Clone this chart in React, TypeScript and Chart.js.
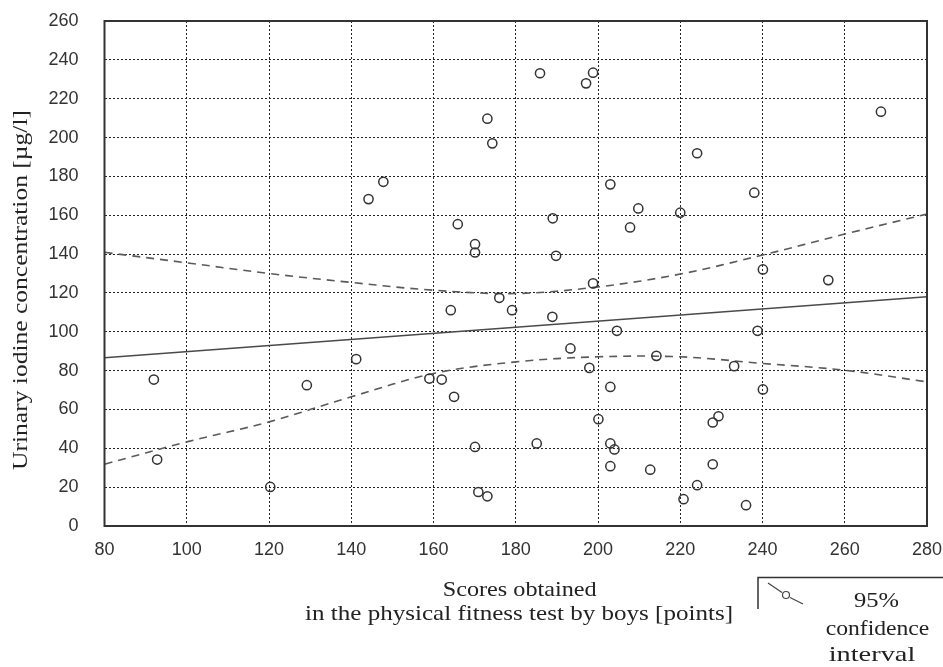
import React, { useEffect, useRef } from "react";
import { Chart, registerables } from "chart.js";

Chart.register(...registerables);

// ---- data ----
const scoreX = [
  92.0, 92.8, 120.3, 129.2, 141.2, 144.2, 147.8, 159.0, 162.0, 164.2,
  165.0, 165.9, 170.1, 170.1, 170.1, 170.9, 173.1, 173.1, 174.3, 176.0,
  179.1, 185.1, 185.9, 188.9, 189.0, 189.8, 193.3, 197.1, 197.9, 198.8,
  198.8, 200.1, 203.0, 203.0, 203.0, 204.0, 203.0, 204.6, 207.8, 209.8,
  212.7, 214.2, 220.0, 220.8, 224.1, 224.1, 227.9, 229.3, 227.9, 233.1,
  236.0, 238.0, 238.8, 240.1, 240.1, 256.0, 268.8,
];
const iodineY = [
  75.4, 34.2, 20.1, 72.5, 85.9, 168.3, 177.2, 75.9, 75.4, 111.1,
  66.5, 155.4, 145.1, 140.8, 40.7, 17.5, 15.3, 209.7, 197.0, 117.5,
  111.1, 42.5, 233.1, 107.7, 158.4, 139.1, 91.4, 227.9, 81.4, 233.4,
  124.9, 55.0, 175.9, 71.6, 42.5, 39.4, 30.8, 100.5, 153.7, 163.5,
  29.0, 87.6, 161.3, 13.8, 191.9, 21.0, 53.3, 56.5, 31.8, 82.3,
  10.7, 171.6, 100.5, 132.1, 70.3, 126.6, 213.3,
];
const regX = [80, 280];
const regY = [86.6, 118.0];
const ciX = [80, 100, 120, 140, 160, 180, 200, 220, 240, 260, 280];
const ciUpper = [140.9, 135.5, 130.0, 125.4, 121.4, 119.7, 123.1, 129.7, 139.5, 150.3, 160.6];
const ciLower = [31.8, 43.3, 53.6, 66.5, 78.5, 84.5, 87.1, 87.1, 83.7, 80.2, 74.2];

const xTickMin = 80;
const xTickMax = 280;
const xTickStep = 20;
const yTickMin = 0;
const yTickMax = 260;
const yTickStep = 20;

const yTitle = "Urinary iodine concentration [\u00b5g/l]";
const xTitleLines = ["Scores obtained", "in the physical fitness test by boys [points]"];
const legendLines = ["95%", "confidence", "interval"];

const toPts = (xs: number[], ys: number[]) => xs.map((x, i) => ({ x, y: ys[i] }));

function fitText(
  ctx: CanvasRenderingContext2D,
  text: string,
  cx: number,
  baseY: number,
  targetW: number,
  rotate = false
) {
  ctx.save();
  ctx.font = "22px 'Liberation Serif', 'Times New Roman', serif";
  ctx.fillStyle = "#222";
  ctx.textAlign = "center";
  ctx.textBaseline = "alphabetic";
  const w = ctx.measureText(text).width;
  const s = targetW / w;
  if (rotate) {
    ctx.translate(baseY, cx);
    ctx.rotate(-Math.PI / 2);
    ctx.scale(s, 1);
    ctx.fillText(text, 0, 0);
  } else {
    ctx.translate(cx, baseY);
    ctx.scale(s, 1);
    ctx.fillText(text, 0, 0);
  }
  ctx.restore();
}

const decorPlugin = {
  id: "decor",
  afterDraw(chart: any) {
    const ctx: CanvasRenderingContext2D = chart.ctx;
    const a = chart.chartArea;
    // plot frame
    ctx.save();
    ctx.strokeStyle = "#333";
    ctx.lineWidth = 2;
    ctx.strokeRect(a.left, a.top, a.right - a.left, a.bottom - a.top);
    ctx.restore();

    // axis titles
    fitText(ctx, xTitleLines[0], 519.7, 596, 154);
    fitText(ctx, xTitleLines[1], 519, 620, 428);
    fitText(ctx, yTitle, 290, 27, 360, true);

    // legend box
    ctx.save();
    ctx.strokeStyle = "#333";
    ctx.lineWidth = 1.5;
    ctx.beginPath();
    ctx.moveTo(758, 609);
    ctx.lineTo(758, 577.5);
    ctx.lineTo(943, 577.5);
    ctx.stroke();
    ctx.strokeStyle = "#444";
    ctx.lineWidth = 1.2;
    ctx.beginPath();
    ctx.moveTo(768, 583);
    ctx.lineTo(782, 592.5);
    ctx.moveTo(790, 597.5);
    ctx.lineTo(803, 604);
    ctx.stroke();
    ctx.beginPath();
    ctx.arc(786, 595, 3.5, 0, Math.PI * 2);
    ctx.stroke();
    ctx.restore();
    fitText(ctx, legendLines[0], 876.5, 607, 45);
    fitText(ctx, legendLines[1], 877.5, 635, 103.7);
    fitText(ctx, legendLines[2], 872, 661, 86.7);
  },
};

function zeroPad(scale: any) {
  scale.paddingTop = 0;
  scale.paddingBottom = 0;
  scale.paddingLeft = 0;
  scale.paddingRight = 0;
}

export default function App() {
  const ref = useRef<HTMLCanvasElement>(null);
  useEffect(() => {
    if (!ref.current) return;
    const gridCommon = {
      color: "#222",
      lineWidth: 1,
      drawTicks: false,
    };
    const chart = new Chart(ref.current, {
      type: "scatter",
      data: {
        datasets: [
          {
            label: "Data",
            data: toPts(scoreX, iodineY),
            pointStyle: "circle",
            pointRadius: 4.6,
            pointBorderWidth: 1.5,
            borderColor: "#333",
            backgroundColor: "rgba(0,0,0,0)",
            showLine: false,
          },
          {
            label: "Regression",
            data: toPts(regX, regY),
            showLine: true,
            pointRadius: 0,
            borderColor: "#4a4a4a",
            borderWidth: 1.6,
          },
          {
            label: "Upper 95%",
            data: toPts(ciX, ciUpper),
            showLine: true,
            pointRadius: 0,
            borderColor: "#5a5a5a",
            borderWidth: 1.6,
            borderDash: [8, 6],
            tension: 0.35,
          },
          {
            label: "Lower 95%",
            data: toPts(ciX, ciLower),
            showLine: true,
            pointRadius: 0,
            borderColor: "#5a5a5a",
            borderWidth: 1.6,
            borderDash: [8, 6],
            tension: 0.35,
          },
        ],
      },
      options: {
        animation: false,
        responsive: false,
        devicePixelRatio: 1,
        layout: { padding: { left: 0, top: 21, right: 16, bottom: 0 } },
        plugins: {
          legend: { display: false },
          tooltip: { enabled: false },
          title: { display: false },
        },
        scales: {
          x: {
            type: "linear",
            min: xTickMin,
            max: xTickMax,
            ticks: {
              stepSize: xTickStep,
              padding: 13,
              color: "#333",
              font: { family: "'Liberation Sans', Arial, sans-serif", size: 18 },
            },
            grid: gridCommon,
            border: { display: false, dash: [2, 2] },
            afterFit(scale: any) {
              scale.height = 141;
              zeroPad(scale);
            },
          },
          y: {
            type: "linear",
            min: yTickMin,
            max: yTickMax,
            ticks: {
              stepSize: yTickStep,
              padding: 26,
              color: "#333",
              font: { family: "'Liberation Sans', Arial, sans-serif", size: 18 },
            },
            grid: gridCommon,
            border: { display: false, dash: [2, 2] },
            afterFit(scale: any) {
              scale.width = 104.5;
              zeroPad(scale);
            },
          },
        },
      },
      plugins: [decorPlugin],
    } as any);
    return () => chart.destroy();
  }, []);
  return (
    <div
      style={{
        position: "fixed",
        left: 0,
        top: 0,
        width: 943,
        height: 667,
        background: "#fff",
      }}
    >
      <canvas ref={ref} width={943} height={667} />
    </div>
  );
}
